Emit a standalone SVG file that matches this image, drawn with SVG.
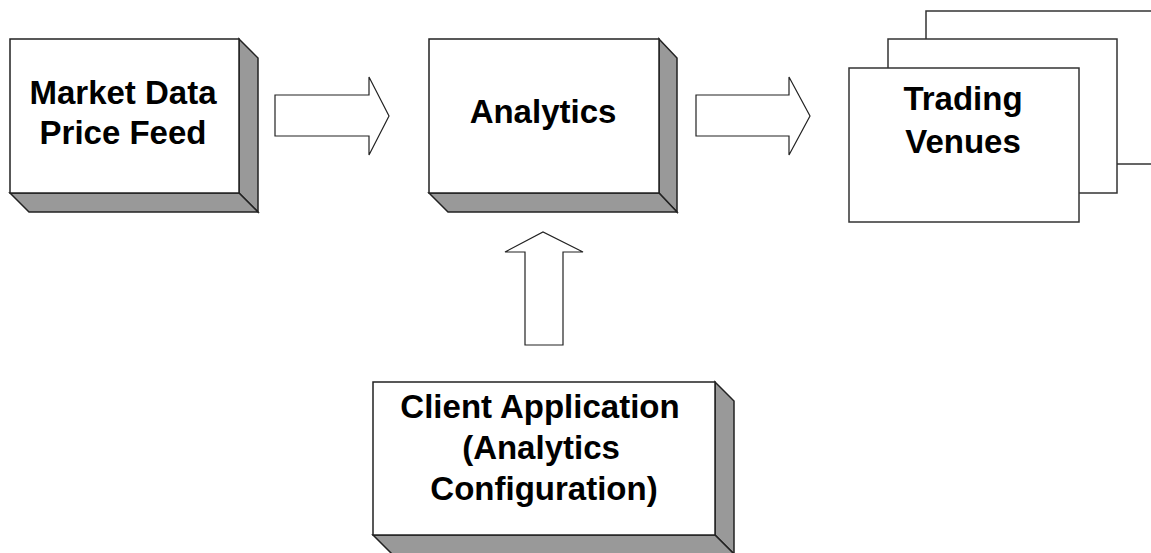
<svg xmlns="http://www.w3.org/2000/svg" width="1151" height="553" viewBox="0 0 1151 553">
<style>
.face{fill:#fff;stroke:#222;stroke-width:1.5}
.shade{fill:#999;stroke:#222;stroke-width:1.5;stroke-linejoin:miter}
.plain{fill:#fff;stroke:#333;stroke-width:1.5}
.arrow{fill:#fff;stroke:#222;stroke-width:1.2}
.lbl{font-family:"Liberation Sans",Arial,sans-serif;font-weight:bold;font-size:33px;fill:#000;text-anchor:middle}
</style>
<rect width="1151" height="553" fill="#fff"/>
<g id="market-data">
<polygon class="shade" points="239,39 258,58 258,212 239,193"/>
<polygon class="shade" points="10,193 239,193 258,212 29,212"/>
<rect class="face" x="10" y="39" width="229" height="154"/>
<text class="lbl" x="123" y="104">Market Data</text>
<text class="lbl" x="123" y="144">Price Feed</text>
</g>
<g id="analytics">
<polygon class="shade" points="659,39 677,58 677,212 659,193"/>
<polygon class="shade" points="429,193 659,193 677,212 448,212"/>
<rect class="face" x="429" y="39" width="230" height="154"/>
<text class="lbl" x="543" y="123">Analytics</text>
</g>
<g id="trading-venues">
<rect class="plain" x="926" y="11" width="240" height="153"/>
<rect class="plain" x="888" y="39" width="229" height="154"/>
<rect class="plain" x="849" y="68" width="230" height="154"/>
<text class="lbl" x="963" y="110">Trading</text>
<text class="lbl" x="963" y="153">Venues</text>
</g>
<g id="client-application">
<polygon class="shade" points="715,382 734,401 734,554 715,535"/>
<polygon class="shade" points="373,535 715,535 734,554 392,554"/>
<rect class="face" x="373" y="382" width="342" height="153"/>
<text class="lbl" x="540" y="418">Client Application</text>
<text class="lbl" x="541" y="459">(Analytics</text>
<text class="lbl" x="544" y="500">Configuration)</text>
</g>
<g id="connectors">
<polygon class="arrow" points="275,95 369,95 369,77 389,116 369,155 369,136 275,136"/>
<polygon class="arrow" points="696,95 789,95 789,77 810,116 789,155 789,136 696,136"/>
<polygon class="arrow" points="525,345 525,252 505,252 543,232 583,252 563,252 563,345"/>
</g>
</svg>
